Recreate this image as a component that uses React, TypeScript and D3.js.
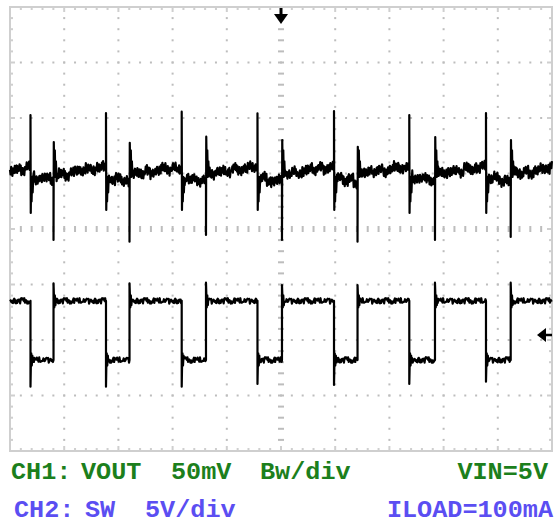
import React from "react";
import * as d3 from "d3";

const W = 558;
const H = 524;

// Screen: 10 x 8 divisions
const X_DIVS = 10;
const Y_DIVS = 8;

// SW (CH2) switching edges, time in divisions
const swFallTimes = [0.378, 1.771, 3.168, 4.566, 5.978, 7.367, 8.782];
const swRiseTimes = [0.803, 2.205, 3.616, 5.018, 6.412, 7.841, 9.238];

// CH2 levels (V, relative to CH2 ground marker)
const swHighV = 3.08;
const swLowV = -2.25;
const swOvershootV = [4.66, 4.66, 4.71, 4.5, 4.5, 4.71, 4.71];
const swUndershootV = [-4.66, -4.66, -4.66, -4.41, -4.5, -4.41, -4.21];

// CH1 (VOUT ripple, mV) spikes at each SW edge
const voutFallTop = [51.8, 53.6, 54.8, 53.3, 55.4, 51.8, 53.6];
const voutFallBottom = [-36.5, -33.8, -33.8, -33.8, -33.8, -36.5, -36.5];
const voutRiseTop = [27.5, 26.8, 32.3, 29.3, 23.2, 32.0, 29.3];
const voutRiseBottom = [-60.8, -62.3, -56.3, -60.8, -62.3, -60.8, -58.1];

// CH1 baseline levels (mV) during SW low and SW high phases
const voutStart = 1;
const voutLowStart = [-4, -5, -5, -5, -4, -3, -4];
const voutLowEnd = [-7, -8, -9, -9, -9, -8, -8];
const voutHighStart = [-2, -2, -1, -1, -1, -1, -1];
const voutHighEnd = [5, 5, 5, 5, 5, 5, 4];

// hand-read trace jitter (normalised)
const jitter = [
  0.3, -0.6, 0.8, -0.2, -0.9, 0.5, 0.1, -0.4, 0.9, -0.7, 0.2, 0.6, -0.8, 0.4, -0.1, -0.5,
  0.7, -0.3, 0.95, -0.85, 0.15, 0.45, -0.65, 0.25, -0.95, 0.55, 0.05, -0.35, 0.75, -0.55,
  0.35, -0.15, 0.85, -0.75, -0.05, 0.65, -0.45, 0.1, -0.9, 0.6, 0.2, -0.7, 0.5, -0.25, 0.8,
  -0.6, 0.0, 0.4, -0.8, 0.7, -0.3, 0.15, -0.5, 0.9, -0.2, 0.35, -0.95, 0.55, -0.1, 0.25,
  -0.65, 0.45, 0.75, -0.4,
];
// hand-read slow wander of the VOUT trace (mV)
const wander = [0, 1.5, -1, 2, -2, 0.5, 2.5, -1.5, 1, -2.5, 0, 1.5, -0.5, 2, -1.5, 0.5, 1, -2, 2.5, -1];

// Labels
const ch1Labels = ["CH1:", "VOUT", "50mV", "Bw/div"];
const ch1Right = "VIN=5V";
const ch2Labels = ["CH2:", "SW", "5V/div"];
const ch2Right = "ILOAD=100mA";

const CH1_OFFSET_DIV = 1.018;
const CH1_PER_DIV = 50;
const CH2_OFFSET_DIV = -1.91;
const CH2_PER_DIV = 5;

const x = d3.scaleLinear().domain([0, X_DIVS]).range([10, 552]);
const y = d3.scaleLinear().domain([-Y_DIVS / 2, Y_DIVS / 2]).range([451, 7]);

type P = [number, number];
const STEP = 0.011;

function buildCh1(): P[] {
  const pts: P[] = [];
  let k = 0;
  const amp = 4.8;
  const seg = (t0: number, t1: number, v0: number, v1: number) => {
    for (let t = t0; t < t1; t += STEP) {
      const f = (t - t0) / (t1 - t0);
      const w = wander[Math.floor(k / 9) % wander.length];
      pts.push([t, v0 + (v1 - v0) * f + w + jitter[k % jitter.length] * amp]);
      k++;
    }
  };
  seg(0, swFallTimes[0] - 0.004, voutStart, voutHighEnd[6]);
  swFallTimes.forEach((tf, i) => {
    const tr = swRiseTimes[i];
    pts.push([tf, 2], [tf, voutFallTop[i]], [tf + 0.005, voutFallBottom[i]], [tf + 0.012, -6], [tf + 0.02, -26], [tf + 0.03, -4], [tf + 0.04, -18], [tf + 0.05, -5]);
    seg(tf + 0.055, tr - 0.004, voutLowStart[i], voutLowEnd[i]);
    pts.push([tr, voutLowEnd[i]], [tr, voutRiseBottom[i]], [tr + 0.005, voutRiseTop[i]], [tr + 0.014, -2], [tr + 0.024, 20], [tr + 0.034, -4], [tr + 0.044, 10], [tr + 0.052, 0]);
    const next = i < swFallTimes.length - 1 ? swFallTimes[i + 1] - 0.004 : X_DIVS;
    seg(tr + 0.057, next, voutHighStart[i], voutHighEnd[i]);
  });
  return pts.map(([t, mv]) => [t, CH1_OFFSET_DIV + mv / CH1_PER_DIV]);
}

function buildCh2(): P[] {
  const pts: P[] = [];
  let k = 11;
  const amp = 0.26;
  const seg = (t0: number, t1: number, v: number) => {
    for (let t = t0; t < t1; t += STEP) {
      pts.push([t, v + jitter[(k * 7) % jitter.length] * amp]);
      k++;
    }
  };
  seg(0, swFallTimes[0] - 0.004, swHighV);
  swFallTimes.forEach((tf, i) => {
    const tr = swRiseTimes[i];
    pts.push([tf, swHighV], [tf, swUndershootV[i]], [tf + 0.006, swLowV - 0.7], [tf + 0.014, swLowV + 0.6], [tf + 0.024, swLowV - 0.5], [tf + 0.034, swLowV + 0.4]);
    seg(tf + 0.04, tr - 0.004, swLowV);
    pts.push([tr, swLowV], [tr, swOvershootV[i]], [tr + 0.006, swHighV + 0.7], [tr + 0.014, swHighV - 0.6], [tr + 0.024, swHighV + 0.5], [tr + 0.034, swHighV - 0.4]);
    const next = i < swFallTimes.length - 1 ? swFallTimes[i + 1] - 0.004 : X_DIVS;
    seg(tr + 0.04, next, swHighV);
  });
  return pts.map(([t, v]) => [t, CH2_OFFSET_DIV + v / CH2_PER_DIV]);
}

const line = d3
  .line<P>()
  .x((d) => x(d[0]))
  .y((d) => y(d[1]));

export default function App() {
  const ch1 = buildCh1();
  const ch2 = buildCh2();
  const gridCol = "#bdbdbd";
  const borderCol = "#cfcfcf";

  const minorX = d3.range(1, X_DIVS * 5);
  const minorY = d3.range(1, Y_DIVS * 5);
  const dots: JSX.Element[] = [];
  for (let i = 1; i < X_DIVS; i++) {
    if (i === X_DIVS / 2) continue;
    minorY.forEach((j) => {
      dots.push(<rect key={`v${i}-${j}`} x={x(i) - 1} y={y(-4 + j / 5) - 1} width={2} height={2} fill={gridCol} />);
    });
  }
  for (let j = 1; j < Y_DIVS; j++) {
    if (j === Y_DIVS / 2) continue;
    minorX.forEach((i) => {
      dots.push(<rect key={`h${j}-${i}`} x={x(i / 5) - 1} y={y(-4 + j) - 1} width={2} height={2} fill={gridCol} />);
    });
  }
  const greenCol = "#1c7f1c";
  const purpleCol = "#5b4ef2";
  const font = { fontFamily: "'Liberation Mono', monospace", fontWeight: 700 as const, fontSize: 24 };
  const ch1X = [11, 81, 171, 260];
  const ch2X = [14, 85, 145];
  const gy = y(CH2_OFFSET_DIV);
  const tx = x(5);
  const ty = y(4);

  return (
    <svg width={W} height={H} style={{ position: "absolute", left: 0, top: 0, background: "#fff" }}>
      <rect x={0} y={0} width={W} height={H} fill="#fff" />
      {dots}
      {minorY.map((j) => (
        <rect key={`cy${j}`} x={x(5) - 3} y={y(-4 + j / 5) - 1} width={6} height={2} fill={gridCol} />
      ))}
      {minorX.map((i) => (
        <rect key={`cx${i}`} x={x(i / 5) - 1} y={y(0) - 3} width={2} height={6} fill={gridCol} />
      ))}
      {minorX.map((i) => {
        const len = i % 5 === 0 ? 5 : 3;
        return (
          <g key={`bx${i}`}>
            <rect x={x(i / 5) - 1} y={y(4)} width={2} height={len} fill={borderCol} />
            <rect x={x(i / 5) - 1} y={y(-4) - len} width={2} height={len} fill={borderCol} />
          </g>
        );
      })}
      {minorY.map((j) => {
        const len = j % 5 === 0 ? 5 : 3;
        return (
          <g key={`by${j}`}>
            <rect x={x(0)} y={y(-4 + j / 5) - 1} width={len} height={2} fill={borderCol} />
            <rect x={x(10) - len} y={y(-4 + j / 5) - 1} width={len} height={2} fill={borderCol} />
          </g>
        );
      })}
      <rect x={x(0)} y={y(4)} width={x(10) - x(0)} height={y(-4) - y(4)} fill="none" stroke={borderCol} strokeWidth={2} />

      <path d={line(ch2) ?? ""} fill="none" stroke="#000" strokeWidth={2.2} strokeLinejoin="round" />
      <path d={line(ch1) ?? ""} fill="none" stroke="#000" strokeWidth={2.2} strokeLinejoin="round" />

      {/* trigger marker */}
      <line x1={tx} x2={tx} y1={ty + 1} y2={ty + 12} stroke="#000" strokeWidth={3} />
      <path d={`M${tx - 7},${ty + 7} L${tx + 7},${ty + 7} L${tx},${ty + 17} Z`} fill="#000" />
      {/* CH2 ground marker */}
      <line x1={x(10) - 8} x2={x(10)} y1={gy} y2={gy} stroke="#000" strokeWidth={2.5} />
      <path d={`M${x(10) - 15},${gy} L${x(10) - 6},${gy - 7} L${x(10) - 6},${gy + 7} Z`} fill="#000" />

      {ch1Labels.map((s, i) => (
        <text key={s} x={ch1X[i]} y={479} fill={greenCol} {...font} textLength={s.length * 15.1} lengthAdjust="spacingAndGlyphs">
          {s}
        </text>
      ))}
      <text x={548} y={479} fill={greenCol} textAnchor="end" {...font} textLength={6 * 15.1} lengthAdjust="spacingAndGlyphs">
        {ch1Right}
      </text>
      {ch2Labels.map((s, i) => (
        <text key={s} x={ch2X[i]} y={517} fill={purpleCol} {...font} textLength={s.length * 15.1} lengthAdjust="spacingAndGlyphs">
          {s}
        </text>
      ))}
      <text x={553} y={517} fill={purpleCol} textAnchor="end" {...font} textLength={11 * 15.1} lengthAdjust="spacingAndGlyphs">
        {ch2Right}
      </text>
    </svg>
  );
}
